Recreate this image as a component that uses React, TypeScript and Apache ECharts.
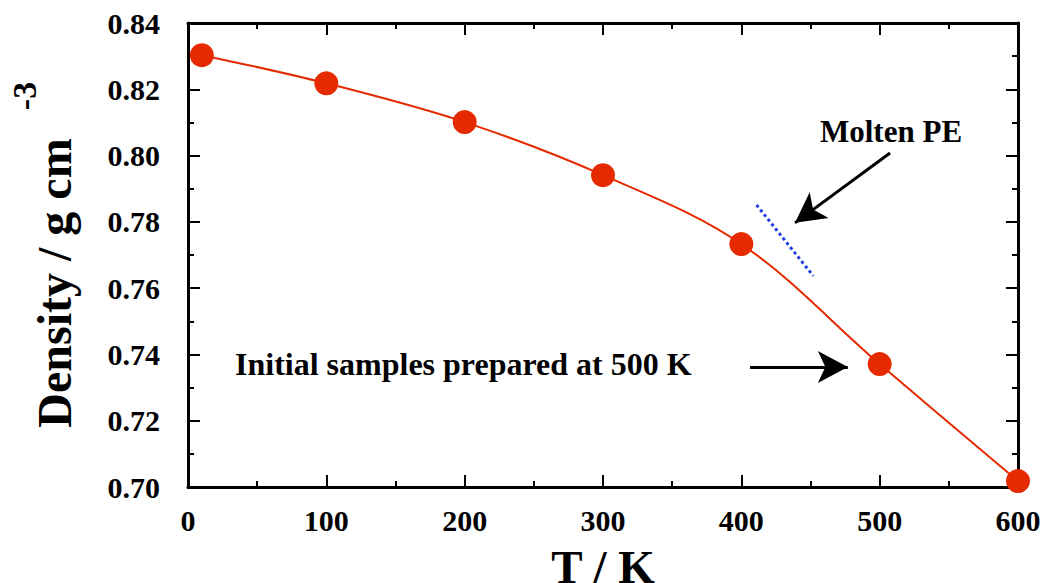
import React, { useEffect, useRef } from "react";
import * as echarts from "echarts";

const temperatures = [10, 100, 200, 300, 400, 500, 600];
const densities = [0.8303, 0.8218, 0.8101, 0.7941, 0.7733, 0.7371, 0.7018];
const moltenLine = [
  [411, 0.7851],
  [452, 0.7637],
];
const moltenArrow = [
  [507.5, 0.8008],
  [438.8, 0.7797],
];
const initialArrow = [
  [406.3, 0.7362],
  [477, 0.7362],
];
const xTicks = { min: 0, max: 600, interval: 100 };
const yTicks = { min: 0.7, max: 0.84, interval: 0.02 };

const FONT = '"Liberation Serif", "Times New Roman", serif';
const RED = "#e62a00";

export default function App() {
  const ref = useRef<HTMLDivElement>(null);
  useEffect(() => {
    if (!ref.current) return;
    const chart = echarts.init(ref.current, undefined, { renderer: "svg" });
    const axisCommon = {
      axisLine: { show: true, onZero: false, lineStyle: { color: "#000", width: 3 } },
      axisTick: { show: true, inside: true, length: 12, lineStyle: { color: "#000", width: 2 } },
      minorTick: { show: true, splitNumber: 2, length: 6, lineStyle: { color: "#000", width: 2 } },
      splitLine: { show: false },
      minorSplitLine: { show: false },
    };
    const labelStyle = {
      fontFamily: FONT,
      fontWeight: "bold" as const,
      fontSize: 30,
      color: "#000",
    };
    chart.setOption({
      animation: false,
      grid: {
        left: 188,
        right: 22,
        top: 23,
        bottom: 96,
        containLabel: false,
        outerBoundsMode: "none",
      },
      xAxis: [
        {
          type: "value",
          position: "bottom",
          ...xTicks,
          ...axisCommon,
          axisLabel: { ...labelStyle, margin: 18 },
          name: "T / K",
          nameLocation: "middle",
          nameGap: 56,
          nameTextStyle: { fontFamily: FONT, fontWeight: "bold", fontSize: 47, color: "#000" },
        },
        {
          type: "value",
          position: "top",
          ...xTicks,
          ...axisCommon,
          axisLabel: { show: false },
        },
      ],
      yAxis: [
        {
          type: "value",
          position: "left",
          ...yTicks,
          ...axisCommon,
          axisLabel: { ...labelStyle, margin: 28, formatter: (v: number) => v.toFixed(2) },
        },
        {
          type: "value",
          position: "right",
          ...yTicks,
          ...axisCommon,
          axisLabel: { show: false },
        },
      ],
      series: [
        {
          type: "line",
          data: temperatures.map((t, i) => [t, densities[i]]),
          smooth: 0.35,
          symbol: "circle",
          symbolSize: 24,
          clip: false,
          itemStyle: { color: RED },
          lineStyle: { color: RED, width: 2 },
          z: 5,
        },
        {
          type: "line",
          data: moltenLine,
          symbol: "none",
          lineStyle: { color: "#1f3de8", width: 3, type: [3, 3] },
          markLine: {
            silent: true,
            symbol: ["none", "arrow"],
            symbolSize: [24, 30],
            label: { show: false },
            lineStyle: { color: "#000", width: 3, type: "solid" },
            data: [
              [{ coord: moltenArrow[0] }, { coord: moltenArrow[1] }],
              [{ coord: initialArrow[0] }, { coord: initialArrow[1] }],
            ],
          },
        },
      ],
      graphic: [
        {
          type: "text",
          x: 54,
          y: 283,
          rotation: Math.PI / 2,
          style: {
            text: "Density / g cm",
            font: `bold 48px ${FONT}`,
            fill: "#000",
            align: "center",
            verticalAlign: "middle",
          },
        },
        {
          type: "text",
          x: 24,
          y: 96,
          rotation: Math.PI / 2,
          style: {
            text: "-3",
            font: `bold 34px ${FONT}`,
            fill: "#000",
            align: "center",
            verticalAlign: "middle",
          },
        },
        {
          type: "text",
          x: 820,
          y: 131,
          style: {
            text: "Molten PE",
            font: `bold 31px ${FONT}`,
            fill: "#000",
            align: "left",
            verticalAlign: "middle",
          },
        },
        {
          type: "text",
          x: 235,
          y: 364,
          style: {
            text: "Initial samples prepared at 500 K",
            font: `bold 32px ${FONT}`,
            fill: "#000",
            align: "left",
            verticalAlign: "middle",
          },
        },
      ],
    });
    return () => chart.dispose();
  }, []);
  return <div ref={ref} style={{ width: 1040, height: 583, position: "absolute", left: 0, top: 0 }} />;
}
